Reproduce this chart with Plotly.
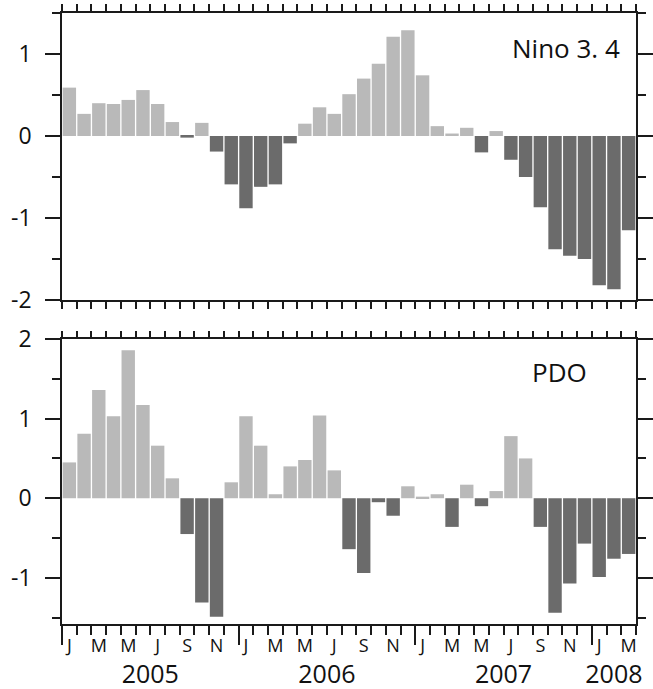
import plotly.graph_objects as go

# ---------------- data ----------------
months = list(range(39))  # Jan 2005 .. Mar 2008
nino34 = [0.59, 0.27, 0.40, 0.39, 0.44, 0.56, 0.39, 0.17, -0.02, 0.16,
          -0.19, -0.59, -0.88, -0.62, -0.59, -0.09, 0.15, 0.35, 0.27, 0.51,
          0.70, 0.88, 1.21, 1.29, 0.74, 0.12, 0.03, 0.10, -0.20, 0.06,
          -0.29, -0.50, -0.87, -1.38, -1.46, -1.50, -1.82, -1.87, -1.15]
pdo = [0.45, 0.81, 1.36, 1.03, 1.86, 1.17, 0.66, 0.25, -0.45, -1.31,
       -1.49, 0.20, 1.03, 0.66, 0.05, 0.40, 0.48, 1.04, 0.35, -0.64,
       -0.94, -0.05, -0.22, 0.15, 0.02, 0.05, -0.36, 0.17, -0.10, 0.09,
       0.78, 0.50, -0.36, -1.44, -1.07, -0.57, -0.99, -0.76, -0.70]
month_labels = ["J", "M", "M", "J", "S", "N"] * 3 + ["J", "M"]
month_label_pos = list(range(0, 39, 2))
year_labels = ["2005", "2006", "2007", "2008"]
year_label_pos = [5.5, 17.5, 29.5, 37]
year_bounds = [-0.5, 11.5, 23.5, 35.5]
month_bounds = [m - 0.5 for m in range(40)]
panel_names = ["Nino 3. 4", "PDO"]

POS = "#b9b9b9"
NEG = "#6b6b6b"
FONT = "Open Sans"
LC = "#1a1a1a"


def colors(vals):
    return [POS if v >= 0 else NEG for v in vals]


fig = go.Figure()
fig.add_trace(go.Bar(x=months, y=nino34, marker=dict(color=colors(nino34), line=dict(width=0)),
                     xaxis="x", yaxis="y", showlegend=False))
fig.add_trace(go.Bar(x=months, y=pdo, marker=dict(color=colors(pdo), line=dict(width=0)),
                     xaxis="x2", yaxis="y2", showlegend=False))
# invisible helpers so overlay axes are drawn
for ax in ["x3", "x4", "x5"]:
    fig.add_trace(go.Scatter(x=[0], y=[0], xaxis=ax, yaxis="y2", mode="markers",
                             marker=dict(opacity=0), showlegend=False, hoverinfo="skip"))

xr = [-0.5, 38.5]
common_x = dict(range=xr, showgrid=False, zeroline=False, linecolor=LC, linewidth=1.5,
                tickcolor=LC, tickwidth=1.5, fixedrange=True, automargin=False)
common_y = dict(showgrid=False, zeroline=False, showline=True, linecolor=LC, linewidth=1.5,
                tickcolor=LC, tickwidth=1.5, ticks="outside", ticklen=15, mirror="ticks",
                automargin=False, fixedrange=True,
                tickfont=dict(size=23, color="#111", family=FONT), ticklabelstandoff=9,
                minor=dict(ticks="outside", ticklen=8, tickcolor=LC, tickwidth=1.5, tickmode="array"))

top_dom = [0.5303, 1.0]
bot_dom = [0.0, 0.4664]

fig.update_layout(
    width=653, height=689,
    margin=dict(l=62, r=17, t=13, b=65),
    paper_bgcolor="white", plot_bgcolor="white",
    bargap=0.09,
    font=dict(family=FONT, color="#111"),
    xaxis=dict(common_x, anchor="y", domain=[0, 1], showline=True, mirror="ticks",
               ticks="outside", ticklen=7, tickmode="array", tickvals=month_bounds,
               showticklabels=False),
    yaxis=dict(common_y, anchor="x", domain=top_dom, range=[-2, 1.5],
               tickmode="array", tickvals=[-2, -1, 0, 1], ticktext=["-2", "-1", "0", "1"]),
    xaxis2=dict(common_x, anchor="y2", domain=[0, 1], showline=True, mirror=True,
                ticks="outside", ticklen=19, tickmode="array", tickvals=year_bounds,
                showticklabels=False,
                minor=dict(ticks="outside", ticklen=9, tickcolor=LC, tickwidth=1.5,
                           tickmode="array", tickvals=month_bounds)),
    yaxis2=dict(common_y, anchor="x2", domain=bot_dom, range=[-1.58, 2],
                tickmode="array", tickvals=[-1, 0, 1, 2], ticktext=["-1", "0", "1", "2"]),
    xaxis3=dict(common_x, overlaying="x2", anchor="y2", side="top", showline=False,
                ticks="outside", ticklen=7, tickmode="array", tickvals=month_bounds,
                showticklabels=False),
    xaxis4=dict(common_x, overlaying="x2", anchor="y2", side="bottom", showline=False,
                ticks="", tickmode="array", tickvals=month_label_pos, ticktext=month_labels,
                tickfont=dict(size=18, family=FONT, color="#111"), ticklabelstandoff=9),
    xaxis5=dict(common_x, overlaying="x2", anchor="y2", side="bottom", showline=False,
                ticks="", tickmode="array", tickvals=year_label_pos, ticktext=year_labels,
                tickfont=dict(size=25, family=FONT, color="#111"), ticklabelstandoff=33),
)

fig.update_yaxes(minor_tickvals=[-1.5, -0.5, 0.5, 1.5], selector=dict(anchor="x"))
fig.update_yaxes(minor_tickvals=[-1.5, -0.5, 0.5, 1.5], selector=dict(anchor="x2"))

fig.add_annotation(text=panel_names[0], xref="x domain", yref="y domain", x=0.975, y=0.878,
                   xanchor="right", yanchor="middle", showarrow=False,
                   font=dict(size=26, family=FONT, color="#111"))
fig.add_annotation(text=panel_names[1], xref="x2 domain", yref="y2 domain", x=0.918, y=0.884,
                   xanchor="right", yanchor="middle", showarrow=False,
                   font=dict(size=26, family=FONT, color="#111"))

fig.write_html("out.html", config={"displayModeBar": False},
               post_script="document.body.style.margin='0';document.body.style.padding='0';")
